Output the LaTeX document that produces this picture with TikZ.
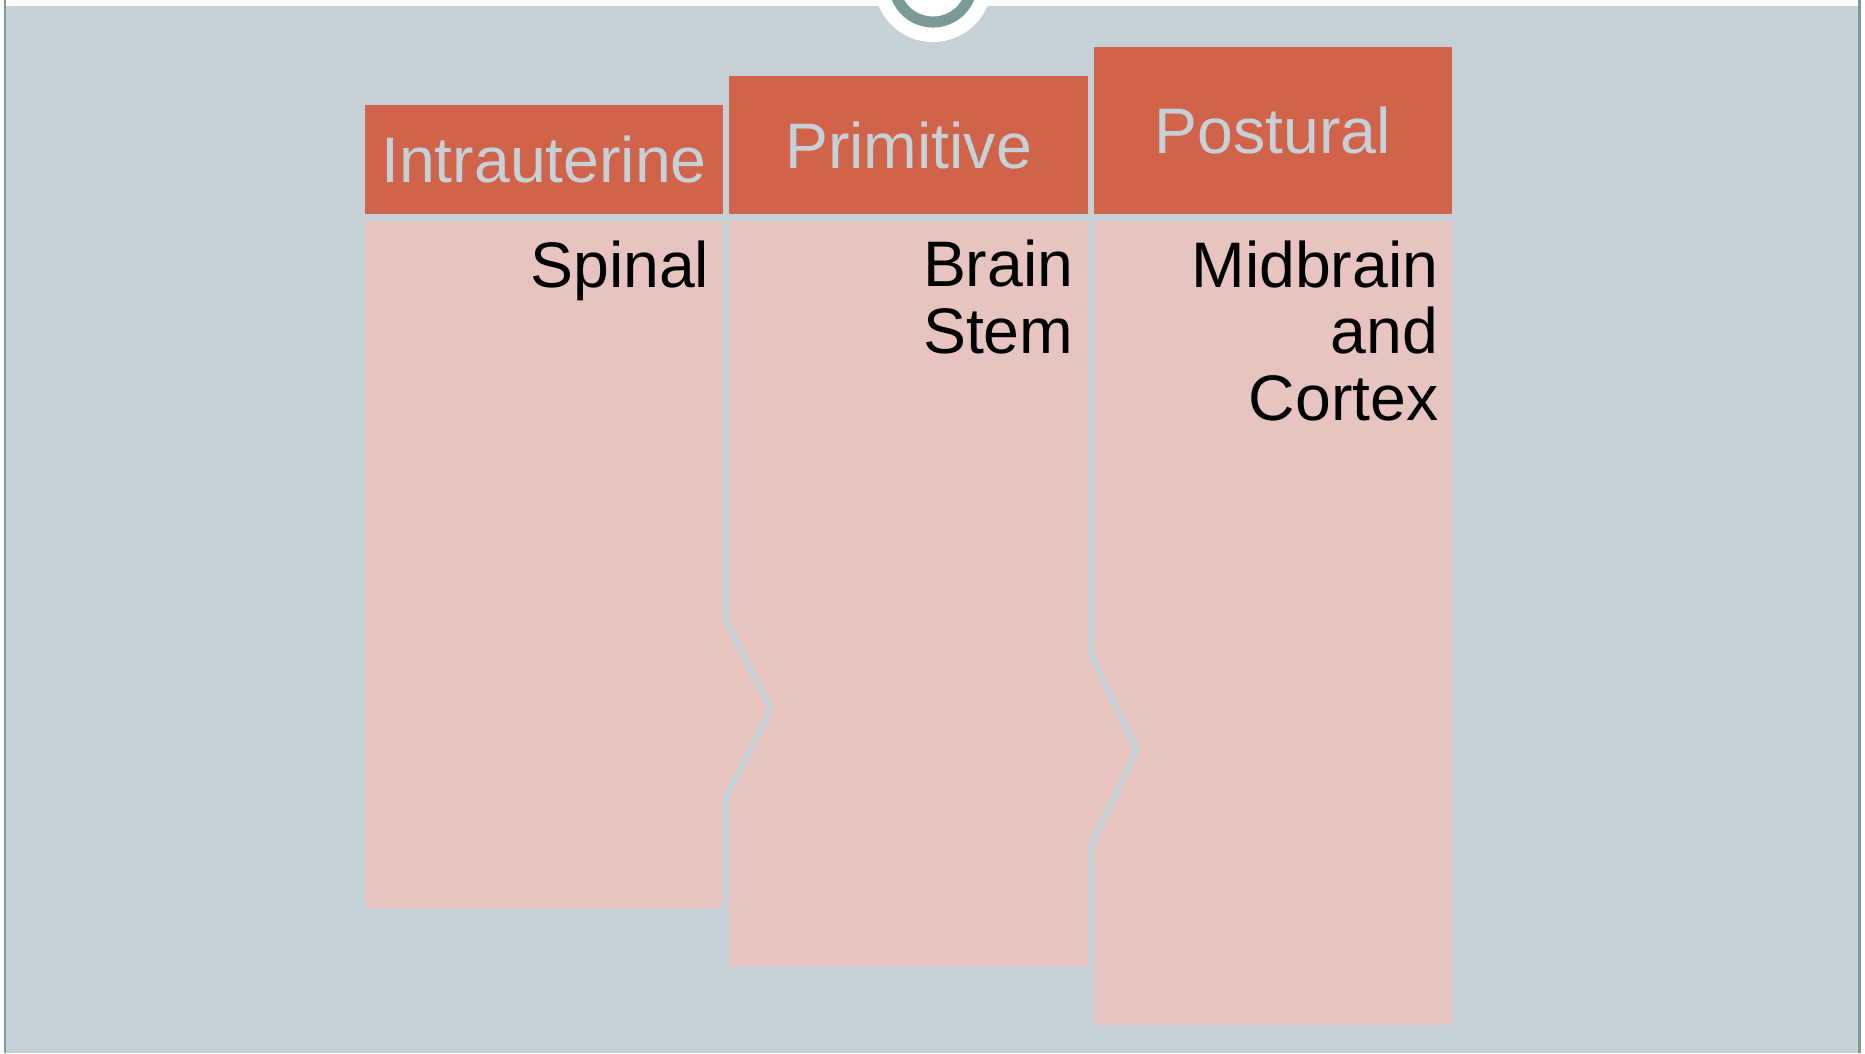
\documentclass[tikz,border=0pt]{standalone}
\usepackage{fontspec}
\setmainfont{Liberation Sans}
\definecolor{panel}{HTML}{C5D1D7}
\definecolor{head}{HTML}{D0634A}
\definecolor{pinkbody}{HTML}{E8C4C0}
\definecolor{rim}{HTML}{7A9A98}
\begin{document}
\begin{tikzpicture}[x=0.01cm,y=-0.01cm,
        header/.style={fill=head,inner sep=0pt,text=panel,font=\fontsize{18.3}{19}\selectfont},
        stage/.style={fill=pinkbody,inner sep=0pt},
        level/.style={anchor=base east,align=right,inner sep=0pt,font=\fontsize{18.3}{18.9}\selectfont},
        notch/.style={draw=panel,line width=0.055cm}]
        \useasboundingbox (0,0) rectangle (1865,1053);
        % slide background
        \fill[white] (0,0) rectangle (1865,1053);
        \fill[panel] (6,6) rectangle (1858,1053);
        \draw[rim,line width=0.02cm] (5,0) -- (5,1053);
        \draw[rim,line width=0.03cm] (1859.5,0) -- (1859.5,1053);
        \fill[white] (933,-17) circle (0.59cm);
        \draw[rim,line width=0.11cm] (933,-17) circle (0.39cm);
        % headers
        \node[header,minimum width=3.58cm,minimum height=1.09cm] (h1) at (544,159.5) {Intrauterine};
        \node[header,minimum width=3.59cm,minimum height=1.38cm] (h2) at (908.5,145) {Primitive};
        \node[header,minimum width=3.58cm,minimum height=1.67cm] (h3) at (1273,130.5) {Postural};
        % bodies
        \node[stage,minimum width=3.58cm,minimum height=6.87cm] (s1) at (544,564.5) {};
        \node[stage,minimum width=3.59cm,minimum height=7.45cm] (s2) at (908.5,593.5) {};
        \node[stage,minimum width=3.58cm,minimum height=8.04cm] (s3) at (1273,623) {};
        % chevrons between the stages
        \fill[pinkbody] (723,615) -- (776,709) -- (723,803) -- cycle;
        \fill[pinkbody] (1088,649) -- (1142,750) -- (1088,851) -- cycle;
        \draw[notch] (726,221) -- (726,621) -- (771,709) -- (726,797) -- (726,908);
        \draw[notch] (1091,221) -- (1091,655) -- (1137,750) -- (1091,845) -- (1091,966);
        % texts (base = last line)
        \node[level] (t1) at (710,287) {Spinal};
        \node[level] (t2) at (1074,353) {Brain\\Stem};
        \node[level] (t3) at (1439,420) {Midbrain\\and\\Cortex};
    \end{tikzpicture}
\end{document}
